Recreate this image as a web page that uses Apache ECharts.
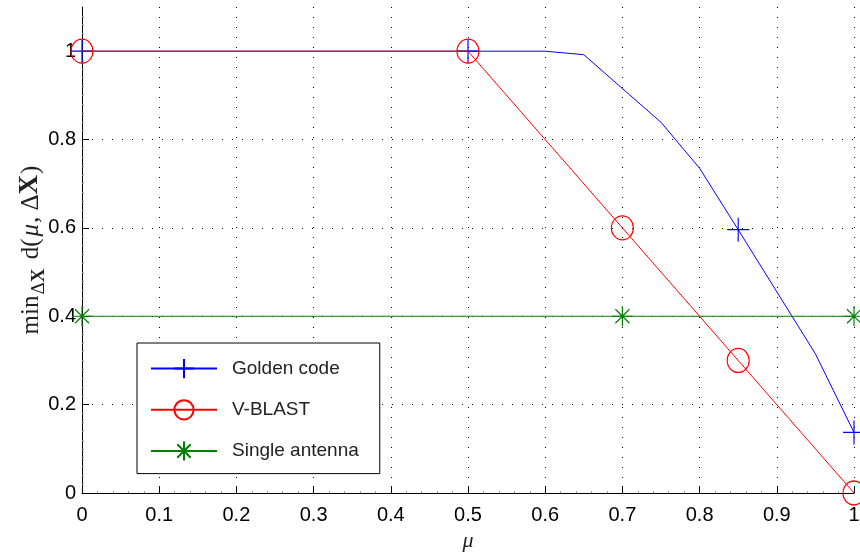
<!DOCTYPE html>
<html>
<head>
<meta charset="utf-8">
<script src="https://cdn.jsdelivr.net/npm/echarts@6/dist/echarts.min.js"></script>
<style>
html,body{margin:0;padding:0;background:#fff;}
#chart{width:860px;height:552px;}
</style>
</head>
<body>
<div id="chart"></div>
<script>
// ---- data ----
const seriesNames = ['Golden code', 'V-BLAST', 'Single antenna'];
const goldenX = [0, 0.5, 0.6, 0.65, 0.75, 0.8, 0.85, 0.95, 1];
const goldenY = [1, 1, 1, 0.992, 0.839, 0.735, 0.596, 0.315, 0.137];
const goldenMarkers = [0, 0.5, 0.85, 1];
const vblastX = [0, 0.5, 0.7, 0.85, 1];
const vblastY = [1, 1, 0.6, 0.3, 0];
const vblastMarkers = [0, 0.5, 0.7, 0.85, 1];
const singleX = [0, 0.7, 1];
const singleY = [0.4, 0.4, 0.4];
const singleMarkers = [0, 0.7, 1];
const xTicks = [0, 0.1, 0.2, 0.3, 0.4, 0.5, 0.6, 0.7, 0.8, 0.9, 1];
const yTicks = [0, 0.2, 0.4, 0.6, 0.8, 1];

// ---- build ----
function build(xs, ys, marks) {
  return xs.map((x, i) => {
    const item = { value: [x, ys[i]] };
    if (!marks.some(m => Math.abs(m - x) < 1e-9)) item.symbol = 'none';
    return item;
  });
}
const PLUS = 'path://M0,-10L0,10M-10,0L10,0';
const STAR = 'path://M0,-10L0,10M-10,0L10,0M-7,-7L7,7M-7,7L7,-7';

const chart = echarts.init(document.getElementById('chart'), null, { renderer: 'canvas' });
const gridLine = { show: true, lineStyle: { color: '#000', width: 1, type: [1, 9] } };
function mkSeries(name, xs, ys, marks, color, symbol, size, z) {
  return {
    name, type: 'line', data: build(xs, ys, marks),
    symbol, symbolSize: size, showSymbol: true, showAllSymbol: true,
    lineStyle: { color, width: 1 },
    itemStyle: { color: 'rgba(0,0,0,0)', borderColor: color, borderWidth: 1.2 },
    emphasis: { disabled: true }, animation: false, z
  };
}
const serif = 'Liberation Serif';
chart.setOption({
  animation: false,
  grid: { left: 82, top: 7, right: 6, bottom: 59, containLabel: false, outerBoundsMode: 'none' },
  xAxis: {
    type: 'value', min: 0, max: 1, interval: 0.1,
    name: 'μ', nameLocation: 'middle', nameGap: 36,
    nameTextStyle: { fontFamily: serif, fontStyle: 'italic', fontSize: 22, color: '#222' },
    axisLine: { show: true, onZero: false, lineStyle: { color: '#000', width: 1 } },
    axisTick: { show: true, inside: true, length: 7, lineStyle: { color: '#000' } },
    minorTick: { show: true, splitNumber: 5, length: 2, lineStyle: { color: '#999' } },
    axisLabel: { customValues: xTicks, fontFamily: 'Liberation Sans', fontSize: 20, color: '#000', margin: 12 },
    splitLine: gridLine
  },
  yAxis: {
    type: 'value', min: 0, max: 1.1, interval: 0.2,
    name: '{r|min}{s|Δ}{sb|X}{r| d(}{i|μ}{r|, Δ}{b|X}{r|)}',
    nameLocation: 'middle', nameGap: 38, nameRotate: 90, nameMoveOverlap: false,
    nameTextStyle: {
      color: '#222',
      rich: {
        r: { fontFamily: serif, fontSize: 25, color: '#222', verticalAlign: 'bottom' },
        i: { fontFamily: serif, fontStyle: 'italic', fontSize: 25, color: '#222', verticalAlign: 'bottom', padding: [0, 1, 0, 2] },
        b: { fontFamily: serif, fontWeight: 'bold', fontSize: 27, color: '#222', verticalAlign: 'bottom', padding: [0, 1, 0, 0] },
        s: { fontFamily: serif, fontSize: 19, color: '#222', verticalAlign: 'bottom', padding: [0, 0, -5, 1] },
        sb: { fontFamily: serif, fontWeight: 'bold', fontSize: 19, color: '#222', verticalAlign: 'bottom', padding: [0, 3, -5, 0] }
      }
    },
    axisLine: { show: true, onZero: false, lineStyle: { color: '#000', width: 1 } },
    axisTick: { show: true, inside: true, length: 7, customValues: yTicks, lineStyle: { color: '#000' } },
    minorTick: { show: true, splitNumber: 10, length: 2, lineStyle: { color: '#999' } },
    axisLabel: { customValues: yTicks, fontFamily: 'Liberation Sans', fontSize: 20, color: '#000', margin: 6 },
    splitLine: Object.assign({ showMaxLine: false }, gridLine)
  },
  legend: {
    left: 137, top: 343, orient: 'vertical',
    backgroundColor: '#fff', borderColor: '#000', borderWidth: 1,
    padding: [15, 21, 12, 13],
    itemWidth: 66, itemHeight: 24, itemGap: 20,
    textStyle: { fontFamily: 'Liberation Sans', fontSize: 19, color: '#222', padding: [0, 0, 0, 10] },
    data: seriesNames
  },
  series: [
    mkSeries(seriesNames[0], goldenX, goldenY, goldenMarkers, '#0000ff', PLUS, [22, 24], 3),
    mkSeries(seriesNames[1], vblastX, vblastY, vblastMarkers, '#ff0000', 'circle', [22, 24], 4),
    mkSeries(seriesNames[2], singleX, singleY, singleMarkers, '#008000', STAR, [20, 20], 3)
  ]
});
</script>
</body>
</html>
